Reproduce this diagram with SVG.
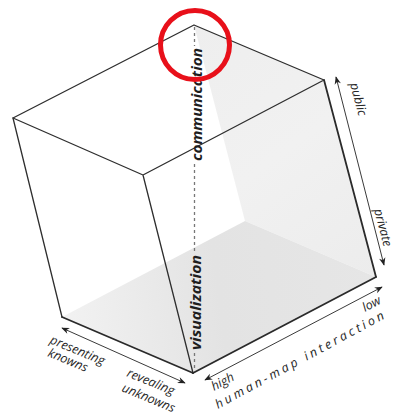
<svg xmlns="http://www.w3.org/2000/svg" width="396" height="415" viewBox="0 0 396 415">
<style>
.edge{fill:none;stroke:#2e2e2e;stroke-width:1.3;stroke-linejoin:round;stroke-linecap:round}
.edge-b{fill:none;stroke:#2a2a2a;stroke-width:1.8;stroke-linecap:round}
.axis{fill:none;stroke:#3a3a3a;stroke-width:1}
.dash{fill:none;stroke:#777;stroke-width:1.3;stroke-dasharray:3 3}
.lbl{font-family:"Open Sans","DejaVu Sans",sans-serif;font-style:italic;font-size:12.5px;fill:#262626}
.big{font-family:"Open Sans","DejaVu Sans",sans-serif;font-style:italic;font-weight:bold;font-size:15px;fill:#1e1e1e}
</style>
<defs>
<marker id="ah" viewBox="0 0 10 10" refX="9" refY="5" markerWidth="10" markerHeight="8" markerUnits="userSpaceOnUse" orient="auto-start-reverse">
<path d="M0,1 L10,5 L0,9 L3,5 z" fill="#222"/>
</marker>
<linearGradient id="floor" x1="62" y1="317" x2="376" y2="277" gradientUnits="userSpaceOnUse">
<stop offset="0" stop-color="#f2f2f2"/>
<stop offset="0.5" stop-color="#e3e3e3"/>
<stop offset="1" stop-color="#e6e6e6"/>
</linearGradient>
<linearGradient id="wall" x1="194" y1="25" x2="376" y2="277" gradientUnits="userSpaceOnUse">
<stop offset="0" stop-color="#eeeeee"/>
<stop offset="0.5" stop-color="#f1f1f1"/>
<stop offset="1" stop-color="#ececec"/>
</linearGradient>
</defs>
<rect width="396" height="415" fill="#ffffff"/>
<g id="cube">
<polygon points="194,25 324,80 376,277 245,221" fill="url(#wall)"/>
<polygon points="62,317 245,221 376,277 193,373" fill="url(#floor)"/>
<polyline class="edge" points="143,175 13,118 194,25 324,80 143,175 193,373"/>
<line class="edge" x1="13" y1="118" x2="62" y2="317"/>
<line class="edge-b" x1="62" y1="317" x2="193" y2="373"/>
<line class="edge-b" x1="324" y1="80" x2="376" y2="277"/>
<line class="edge-b" x1="193" y1="373" x2="376" y2="277"/>
</g>
<g id="connectors">
<line class="dash" x1="194.5" y1="27" x2="194.5" y2="46"/>
<line class="dash" x1="194.5" y1="164" x2="194.5" y2="253"/>
<line class="dash" x1="194.5" y1="353" x2="194.5" y2="371"/>
<line class="axis" x1="336" y1="77" x2="384" y2="265" marker-start="url(#ah)" marker-end="url(#ah)"/>
<line class="axis" x1="382" y1="287" x2="205" y2="380" marker-start="url(#ah)" marker-end="url(#ah)"/>
<line class="axis" x1="62" y1="328" x2="185" y2="383" marker-start="url(#ah)" marker-end="url(#ah)"/>
</g>
<g id="communication">
<text class="big" transform="translate(202,161) rotate(-90)" textLength="113" lengthAdjust="spacingAndGlyphs">communication</text>
</g>
<g id="visualization">
<text class="big" transform="translate(201,350) rotate(-90)" textLength="95" lengthAdjust="spacingAndGlyphs">visualization</text>
</g>
<g id="public-private">
<text class="lbl" transform="translate(350,84) rotate(75)">public</text>
<text class="lbl" transform="translate(374,210) rotate(75)" font-size="11.5">private</text>
</g>
<g id="knowns">
<text class="lbl" transform="translate(49,343) rotate(22.5)">presenting</text>
<text class="lbl" transform="translate(47,356) rotate(22.5)">knowns</text>
<text class="lbl" transform="translate(126,376) rotate(22.5)">revealing</text>
<text class="lbl" transform="translate(121,391) rotate(22.5)">unknowns</text>
</g>
<g id="interaction">
<text class="lbl" transform="translate(365,312) rotate(-28)">low</text>
<text class="lbl" transform="translate(214,391) rotate(-28)">high</text>
<text class="lbl" transform="translate(218,409) rotate(-28.5)" font-size="13" textLength="190" lengthAdjust="spacing">human-map interaction</text>
</g>
<g id="highlight">
<circle cx="195" cy="45" r="34.5" fill="none" stroke="#e8101a" stroke-width="5"/>
</g>
</svg>
